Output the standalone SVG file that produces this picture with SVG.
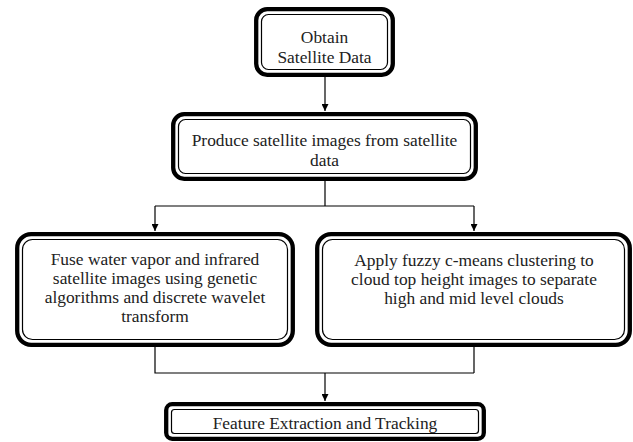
<svg xmlns="http://www.w3.org/2000/svg" width="633" height="442" viewBox="0 0 633 442">
<style>
.o{fill:#fff;stroke:#000;stroke-width:4.3}
.i{fill:none;stroke:#000;stroke-width:1.2}
.t{font-family:"Liberation Serif","Times New Roman",serif;font-size:17.4px;fill:#222;text-anchor:middle}
.c{fill:none;stroke:#000;stroke-width:1.2}
</style>
<defs>
<marker id="ah" viewBox="0 0 10 10" refX="10" refY="5" markerWidth="7" markerHeight="7" markerUnits="userSpaceOnUse" orient="auto">
<path d="M0,0 L10,5 L0,10 Z" fill="#000"/>
</marker>
</defs>
<g id="connectors">
<path class="c" d="M325,77 V111" marker-end="url(#ah)"/>
<path class="c" d="M325,181 V206 M155,206 H474"/>
<path class="c" d="M155,206 V231" marker-end="url(#ah)"/>
<path class="c" d="M474,206 V231" marker-end="url(#ah)"/>
<path class="c" d="M155,347 V373 H474 M474,346 V373"/>
<path class="c" d="M325,373 V401" marker-end="url(#ah)"/>
</g>
<g id="n1">
<rect class="o" x="256.2" y="9.2" width="136.6" height="65.6" rx="11"/>
<rect class="i" x="261.5" y="14.5" width="126" height="55" rx="7"/>
<text class="t" x="324.5" y="42.5">Obtain</text>
<text class="t" x="324.5" y="63">Satellite Data</text>
</g>
<g id="n2">
<rect class="o" x="173.2" y="114.2" width="302.6" height="64.6" rx="11"/>
<rect class="i" x="178.5" y="119.5" width="292" height="54" rx="7"/>
<text class="t" x="324.5" y="146">Produce satellite images from satellite</text>
<text class="t" x="324.5" y="166">data</text>
</g>
<g id="n3">
<rect class="o" x="17.2" y="234.2" width="275.6" height="110.6" rx="14"/>
<rect class="i" x="22.5" y="239.5" width="265" height="100" rx="10"/>
<text class="t" x="155" y="265">Fuse water vapor and infrared</text>
<text class="t" x="155" y="284">satellite images using genetic</text>
<text class="t" x="155" y="303">algorithms and discrete wavelet</text>
<text class="t" x="155" y="322">transform</text>
</g>
<g id="n4">
<rect class="o" x="317.2" y="234.2" width="312.6" height="110.6" rx="14"/>
<rect class="i" x="322.5" y="239.5" width="302" height="100" rx="10"/>
<text class="t" x="474" y="266">Apply fuzzy c-means clustering to</text>
<text class="t" x="474" y="285">cloud top height images to separate</text>
<text class="t" x="474" y="304">high and mid level clouds</text>
</g>
<g id="n5">
<rect class="o" x="166.2" y="404.2" width="317.6" height="34.6" rx="6"/>
<rect class="i" x="171.5" y="409.5" width="307" height="24" rx="3"/>
<text class="t" x="325" y="429">Feature Extraction and Tracking</text>
</g>
</svg>
